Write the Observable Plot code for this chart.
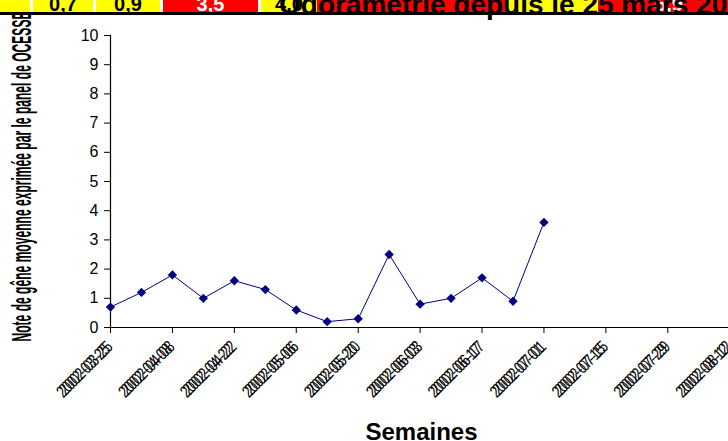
<!DOCTYPE html>
<html><head><meta charset="utf-8">
<script src="https://cdn.jsdelivr.net/npm/d3@7"></script>
<script src="https://cdn.jsdelivr.net/npm/@observablehq/plot@0.6"></script>
<style>
body{margin:0;background:#fff;overflow:hidden}
#wrap{position:relative;width:728px;height:441px;overflow:hidden;font-family:"Liberation Sans",Arial,sans-serif;background:#fff}
#chart{position:absolute;left:0;top:0;width:800px}
#chart svg{max-width:none!important;width:800px;height:441px}
#banner{position:absolute;left:0;top:0;width:728px;height:15px}
.cell{position:absolute;top:0;height:12px;overflow:hidden}
.cell span{position:absolute;left:0;right:0;top:-6px;line-height:20px;font-size:20px;font-weight:bold;text-align:center}
#title{position:absolute;left:279px;top:-9px;line-height:28px;font-size:28px;font-weight:bold;color:#000;white-space:nowrap}
</style></head>
<body>
<div id="wrap"><div id="chart"></div><div id="banner"></div><div id="title"></div></div>
<script>
// ---- data ----
const weeks = ["2002-03-25","2002-04-01","2002-04-08","2002-04-15","2002-04-22","2002-04-29","2002-05-06","2002-05-13","2002-05-20","2002-05-27","2002-06-03","2002-06-10","2002-06-17","2002-06-24","2002-07-01"];
const values = [0.7,1.2,1.8,1.0,1.6,1.3,0.6,0.2,0.3,2.5,0.8,1.0,1.7,0.9,3.6];
const tickLabels = ["2002-03-25","2002-04-08","2002-04-22","2002-05-06","2002-05-20","2002-06-03","2002-06-17","2002-07-01","2002-07-15","2002-07-29","2002-08-12"];
const yTicks = [0,1,2,3,4,5,6,7,8,9,10];
const bannerValues = ["", "0,7", "0,9", "3,5", "4,0", "", "", "5,9"];
const bannerHigh = [false, false, false, true, false, true, false, true];
const titleText = "Odorametrie depuis le 25 mars 2002";
const yLabel = "Note de gêne moyenne exprimée par le panel de OCESSE";
const xLabel = "Semaines";

// ---- banner (layout) ----
const cellEdges = [0, 33, 96, 163, 261, 317, 508, 598, 740];
const banner = document.getElementById("banner");
bannerValues.forEach((v, i) => {
  const c = document.createElement("div");
  c.className = "cell";
  c.style.left = cellEdges[i] + "px";
  c.style.width = (cellEdges[i+1] - cellEdges[i] - (i < 4 ? 3 : 0)) + "px";
  c.style.background = bannerHigh[i] ? "#ff0000" : "#ffff00";
  const s = document.createElement("span");
  s.textContent = v;
  s.style.color = bannerHigh[i] ? "#fff" : "#000";
  c.appendChild(s);
  banner.appendChild(c);
});
const bl = document.createElement("div");
bl.style.cssText = "position:absolute;left:0;top:0;width:728px;height:12px;background:#000;z-index:-1";
banner.appendChild(bl);
const bb = document.createElement("div");
bb.style.cssText = "position:absolute;left:0;top:12px;width:728px;height:3px;background:#000";
banner.appendChild(bb);
document.getElementById("title").textContent = titleText;

// ---- chart ----
const parse = d3.utcParse("%Y-%m-%d");
const data = weeks.map((w, i) => ({date: parse(w), value: values[i]}));
const tickDates = tickLabels.map(parse);
const font = "'Liberation Sans', Arial, sans-serif";

const plot = Plot.plot({
  width: 800, height: 441,
  marginLeft: 110, marginRight: 0, marginTop: 35, marginBottom: 114,
  style: {fontFamily: font, color: "#000", background: "transparent", overflow: "visible", maxWidth: "none"},
  x: {type: "utc", domain: [parse("2002-03-25"), parse("2002-08-28")]},
  y: {domain: [0, 10]},
  marks: [
    Plot.axisY({ticks: yTicks, tickSize: 6, tickPadding: 6, fontSize: 16, tickFormat: d => String(d), label: null, stroke: "#000"}),
    Plot.axisX({ticks: tickDates, tickSize: 6, tickFormat: () => "", label: null, stroke: "#000"}),
    Plot.ruleX([parse("2002-03-25")], {stroke: "#000", strokeWidth: 1.2}),
    Plot.ruleY([0], {stroke: "#000", strokeWidth: 1.2}),
    Plot.line(data, {x: "date", y: "value", stroke: "#000080", strokeWidth: 1}),
    Plot.dot(data, {x: "date", y: "value", symbol: "diamond2", r: 4.2, fill: "#000080", stroke: "none"}),
    Plot.text(tickDates, {x: d => d, frameAnchor: "bottom", text: (d, i) => tickLabels[i], rotate: -45, textAnchor: "end", lineAnchor: "middle", dx: -3, dy: 19, fontSize: 17, fill: "#000", ariaDescription: "xlab"}),
    Plot.text(tickDates, {x: d => d, frameAnchor: "bottom", text: (d, i) => tickLabels[i], rotate: -45, textAnchor: "end", lineAnchor: "middle", dx: -0.5, dy: 16.5, fontSize: 17, fill: "#000", ariaDescription: "xlab"}),
    Plot.text([yLabel], {frameAnchor: "left", rotate: -90, textAnchor: "middle", lineAnchor: "middle", dx: -88, dy: -5, fontSize: 28, fontWeight: "bold", fill: "#000", ariaDescription: "ylab"}),
    Plot.text([xLabel], {frameAnchor: "bottom-left", textAnchor: "middle", lineAnchor: "bottom", dx: 311, dy: 112, fontSize: 24, fontWeight: "bold", fill: "#000"})
  ]
});
plot.querySelectorAll('g[aria-description="xlab"] text').forEach(t => {
  t.setAttribute("textLength", 68);
  t.setAttribute("lengthAdjust", "spacingAndGlyphs");
});
plot.querySelectorAll('g[aria-description="ylab"] text').forEach(t => {
  t.setAttribute("textLength", 330);
  t.setAttribute("lengthAdjust", "spacingAndGlyphs");
});
document.getElementById("chart").appendChild(plot);
</script>
</body></html>
